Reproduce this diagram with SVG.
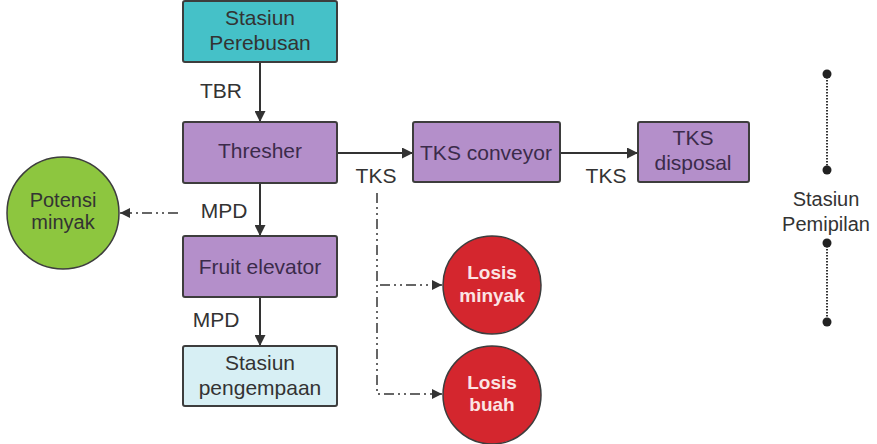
<svg xmlns="http://www.w3.org/2000/svg" width="877" height="444" viewBox="0 0 877 444">
<defs>
<marker id="ah" viewBox="0 0 10 10" refX="10" refY="5" markerWidth="12" markerHeight="11" markerUnits="userSpaceOnUse" orient="auto">
<path d="M0,0 L10,5 L0,10 z" fill="#333"/>
</marker>
<marker id="ah2" viewBox="0 0 10 10" refX="10" refY="5" markerWidth="10" markerHeight="10" markerUnits="userSpaceOnUse" orient="auto">
<path d="M0,0 L10,5 L0,10 z" fill="#333"/>
</marker>
</defs>
<style>
text{font-family:"Liberation Sans",Arial,sans-serif;font-size:21px;text-anchor:middle}
.box{stroke:#3d3d3d;stroke-width:2}
.teal{fill:#45c1c8}
.purple{fill:#b48fca}
.light{fill:#d7eff4}
.dark{fill:#333}
.ptxt{fill:#3b2b4a}
.line{stroke:#333;stroke-width:2;fill:none}
.dd{stroke:#666;stroke-width:2;fill:none;stroke-dasharray:10,4,2,4,2,4}
.red{fill:#d4262e;stroke:#3d3d3d;stroke-width:1.5}
.rtxt{fill:#fbe4e4;font-weight:bold;font-size:19px}
.lbl{fill:#333}
</style>
<rect width="877" height="444" fill="#fff"/>
<g id="connectors">
<line class="line" x1="260" y1="62" x2="260" y2="122" marker-end="url(#ah)"/>
<line class="line" x1="260" y1="183" x2="260" y2="236" marker-end="url(#ah)"/>
<line class="line" x1="260" y1="297" x2="260" y2="346" marker-end="url(#ah)"/>
<line class="line" x1="337" y1="153" x2="413" y2="153" marker-end="url(#ah)"/>
<line class="line" x1="560" y1="153" x2="638" y2="153" marker-end="url(#ah)"/>
<line class="dd" x1="178" y1="213" x2="120" y2="213" marker-end="url(#ah2)"/>
<polyline class="dd" points="377,193 377,394 442,394" marker-end="url(#ah2)"/>
<line class="dd" x1="380" y1="285" x2="442" y2="285" marker-end="url(#ah2)"/>
<text class="lbl" x="221" y="98">TBR</text>
<text class="lbl" x="224" y="218">MPD</text>
<text class="lbl" x="376" y="183">TKS</text>
<text class="lbl" x="216" y="327">MPD</text>
<text class="lbl" x="606" y="183">TKS</text>
</g>
<g id="perebusan">
<rect class="box teal" x="183" y="1" width="154" height="61" rx="2"/>
<text class="dark" x="260" y="25">Stasiun</text>
<text class="dark" x="260" y="50">Perebusan</text>
</g>
<g id="thresher">
<rect class="box purple" x="183" y="122" width="154" height="61" rx="2"/>
<text class="ptxt" x="260" y="158">Thresher</text>
</g>
<g id="fruit-elevator">
<rect class="box purple" x="183" y="236" width="154" height="61" rx="2"/>
<text class="ptxt" x="260" y="274">Fruit elevator</text>
</g>
<g id="pengempaan">
<rect class="box light" x="183" y="346" width="154" height="60" rx="2"/>
<text class="dark" x="260" y="370">Stasiun</text>
<text class="dark" x="260" y="395">pengempaan</text>
</g>
<g id="tks-conveyor">
<rect class="box purple" x="413" y="122" width="147" height="60" rx="2"/>
<text class="ptxt" x="486" y="160">TKS conveyor</text>
</g>
<g id="tks-disposal">
<rect class="box purple" x="638" y="122" width="111" height="60" rx="2"/>
<text class="ptxt" x="693" y="145">TKS</text>
<text class="ptxt" x="693" y="170">disposal</text>
</g>
<g id="potensi-minyak">
<circle cx="63" cy="213" r="56" fill="#8dc63f" stroke="#3d3d3d" stroke-width="1.5"/>
<text class="dark" x="63" y="207" style="font-size:20px">Potensi</text>
<text class="dark" x="63" y="229" style="font-size:20px">minyak</text>
</g>
<g id="losis-minyak">
<circle class="red" cx="492" cy="285" r="49"/>
<text class="rtxt" x="492" y="279">Losis</text>
<text class="rtxt" x="492" y="302">minyak</text>
</g>
<g id="losis-buah">
<circle class="red" cx="492" cy="395" r="49"/>
<text class="rtxt" x="492" y="389">Losis</text>
<text class="rtxt" x="492" y="411">buah</text>
</g>
<g id="stasiun-pemipilan">
<line x1="827" y1="74" x2="827" y2="170" stroke="#333" stroke-width="2" stroke-dasharray="1.5,1.5"/>
<line x1="827" y1="243" x2="827" y2="322" stroke="#333" stroke-width="2" stroke-dasharray="1.5,1.5"/>
<circle cx="827" cy="74" r="4.5" fill="#222"/>
<circle cx="827" cy="170" r="4.5" fill="#222"/>
<circle cx="827" cy="243" r="4.5" fill="#222"/>
<circle cx="827" cy="322" r="4.5" fill="#222"/>
<text class="lbl" x="826" y="206" style="font-size:20px">Stasiun</text>
<text class="lbl" x="826" y="231" style="font-size:20px">Pemipilan</text>
</g>
</svg>
